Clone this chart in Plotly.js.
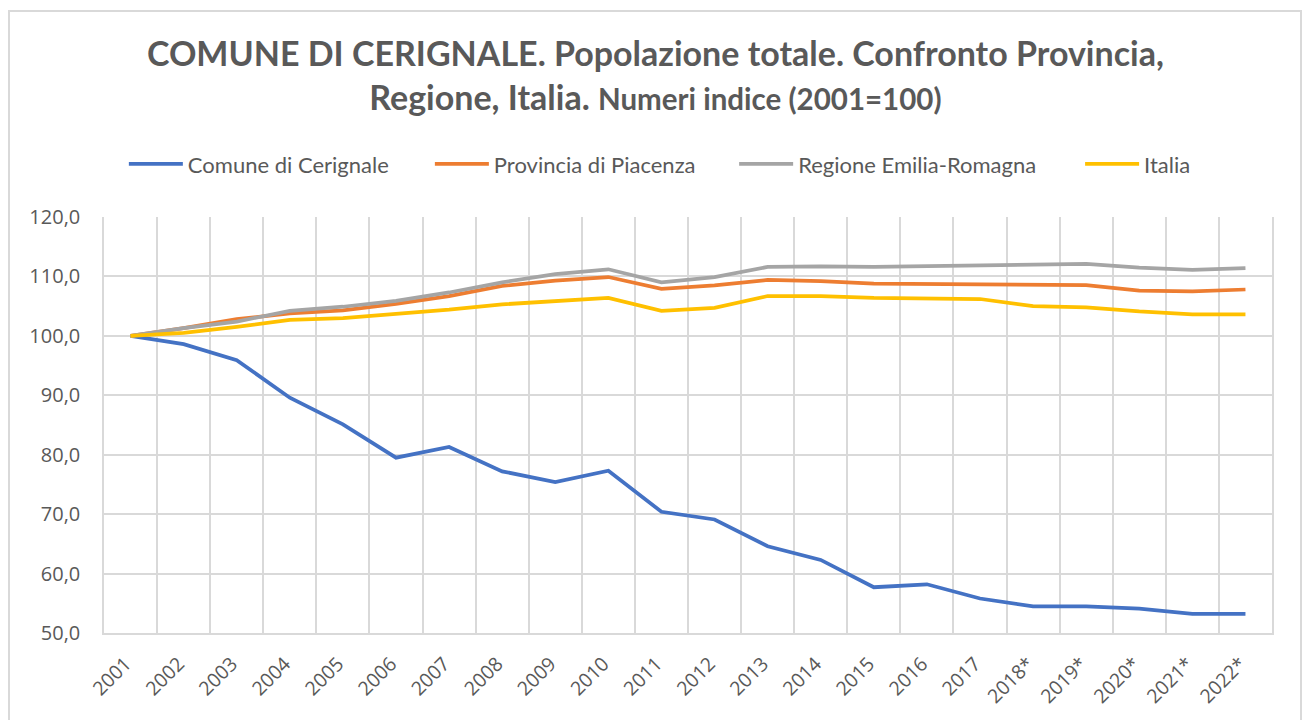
<!DOCTYPE html>
<html>
<head>
<meta charset="utf-8">
<script src="https://cdn.plot.ly/plotly-3.0.1.min.js"></script>
<style>
  html, body { margin: 0; padding: 0; background: #fff; }
  #wrap { position: relative; width: 1303px; height: 720px; overflow: hidden; }
  #chart { width: 1303px; height: 720px; }
  #frame { position: absolute; left: 8px; top: 10px; width: 1290px; height: 730px;
           border: 2px solid #D9D9D9; pointer-events: none; }
</style>
</head>
<body>
<div id="wrap">
  <div id="chart"></div>
  <div id="frame"></div>
</div>
<script>
const years = ["2001","2002","2003","2004","2005","2006","2007","2008","2009","2010","2011",
               "2012","2013","2014","2015","2016","2017","2018*","2019*","2020*","2021*","2022*"];

const comune    = [100.0, 98.6, 95.9, 89.6, 85.1, 79.5, 81.3, 77.2, 75.4, 77.3, 70.4,
                   69.1, 64.6, 62.3, 57.7, 58.2, 55.8, 54.5, 54.5, 54.1, 53.2, 53.2];
const provincia = [100.0, 101.3, 102.8, 103.8, 104.3, 105.4, 106.7, 108.4, 109.3, 109.9, 107.9,
                   108.5, 109.4, 109.2, 108.8, 108.7, 108.7, 108.55, 108.55, 107.6, 107.5, 107.8];
const regione   = [100.0, 101.3, 102.4, 104.2, 104.9, 105.9, 107.3, 109.0, 110.4, 111.2, 109.0,
                   109.9, 111.6, 111.7, 111.6, 111.7, 111.75, 111.9, 112.1, 111.5, 111.1, 111.4];
const italia    = [100.0, 100.5, 101.5, 102.7, 103.0, 103.7, 104.4, 105.3, 105.9, 106.4, 104.2,
                   104.7, 106.7, 106.7, 106.4, 106.3, 106.2, 105.0, 104.8, 104.1, 103.6, 103.6];

const seriesNames = ["Comune di Cerignale", "Provincia di Piacenza", "Regione Emilia-Romagna", "Italia"];
const seriesColors = ["#4472C4", "#ED7D31", "#A5A5A5", "#FFC000"];
const seriesValues = [comune, provincia, regione, italia];
const legendIds = ["legend", "legend2", "legend3", "legend4"];
const legendX = [0.0170, 0.2790, 0.5395, 0.8357];

const traces = seriesValues.map((vals, i) => ({
  type: "scatter",
  mode: "lines",
  x: years,
  y: vals,
  name: seriesNames[i],
  legend: legendIds[i],
  line: { color: seriesColors[i], width: 3.75 },
  hoverinfo: "x+y+name"
}));

const textColor = "#595959";
const legendFont = { family: "Lato, sans-serif", size: 22, color: textColor };

const layout = {
  width: 1303,
  height: 720,
  paper_bgcolor: "#ffffff",
  plot_bgcolor: "#ffffff",
  separators: ",.",
  margin: { l: 104, r: 31, t: 217, b: 87 },
  font: { family: "Lato, 'Open Sans', sans-serif", color: textColor },
  title: {
    text: "<b>COMUNE DI CERIGNALE. Popolazione totale. Confronto Provincia,</b><br><b>Regione, Italia. <span style='font-size:29.5px'>Numeri indice (2001=100)</span></b>",
    font: { family: "Lato, sans-serif", size: 34, color: textColor },
    x: 0.503,
    xref: "container",
    xanchor: "center",
    y: 1 - 66 / 720,
    yref: "container",
    yanchor: "top"
  },
  showlegend: true,
  xaxis: {
    type: "category",
    range: [-0.5, 21.5],
    tickson: "boundaries",
    showgrid: true,
    gridcolor: "#D9D9D9",
    gridwidth: 1.5,
    ticks: "",
    tickangle: -45,
    ticklabelstandoff: 10,
    ticklabelshift: -5,
    tickfont: { family: "'Open Sans', sans-serif", size: 19.5, color: textColor },
    showline: true,
    linecolor: "#D9D9D9",
    linewidth: 1.5,
    mirror: false,
    zeroline: false,
    fixedrange: true
  },
  yaxis: {
    range: [50, 120],
    dtick: 10,
    tick0: 50,
    tickformat: ".1f",
    showgrid: true,
    gridcolor: "#D9D9D9",
    gridwidth: 1.5,
    ticks: "",
    ticklabelstandoff: 18,
    tickfont: { family: "'Open Sans', sans-serif", size: 20, color: textColor },
    showline: true,
    linecolor: "#D9D9D9",
    linewidth: 1.5,
    mirror: true,
    zeroline: false,
    fixedrange: true
  }
};

legendIds.forEach((id, i) => {
  layout[id] = {
    orientation: "h",
    x: legendX[i],
    xanchor: "left",
    y: 1.127,
    yanchor: "middle",
    itemwidth: 54,
    font: legendFont,
    bgcolor: "rgba(0,0,0,0)"
  };
});

Plotly.newPlot("chart", traces, layout, { displayModeBar: false });
</script>
</body>
</html>
